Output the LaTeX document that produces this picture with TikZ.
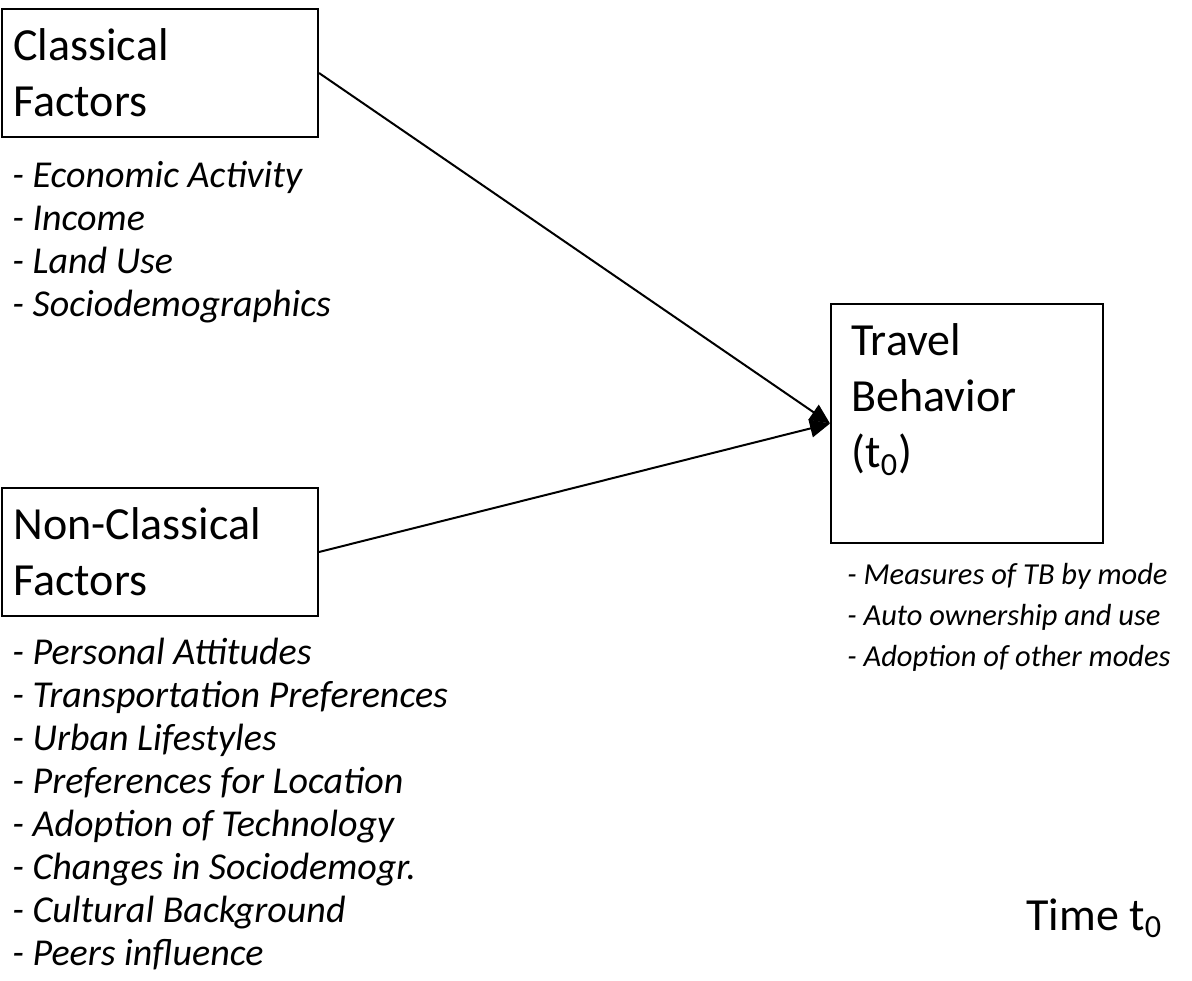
\documentclass[tikz,border=0pt]{standalone}
\usepackage{fontspec}
\setmainfont{Carlito}
\usetikzlibrary{arrows.meta}
\begin{document}
\begin{tikzpicture}[x=0.5pt,y=-0.5pt,
box/.style={draw,line width=1pt,anchor=north west,inner sep=0pt},
head/.style={anchor=north west,inner sep=0pt,align=left,font=\fontsize{23}{28}\selectfont},
items/.style={anchor=north west,inner sep=0pt,align=left,font=\fontsize{19}{21.5}\selectfont\itshape},
link/.style={line width=1pt,-{Triangle[length=10pt,width=9pt]}}
]
\useasboundingbox (0,0) rectangle (1192,980);
\def\bw{158pt}
\def\bh{64pt}
% factor boxes
\node[box,minimum width=\bw,minimum height=\bh] (cf) at (1,8) {};
\node[head] (cftext) at (13,21) {\strut Classical\\Factors};
\node[items] (cflist) at (12,157) {\strut - Economic Activity\\- Income\\- Land Use\\- Sociodemographics};
\node[box,minimum width=\bw,minimum height=\bh] (ncf) at (1,487) {};
\node[head] (ncftext) at (13,500) {\strut Non-Classical\\Factors};
\node[items] (ncflist) at (12,634) {\strut - Personal Attitudes\\- Transportation Preferences\\- Urban Lifestyles\\- Preferences for Location\\- Adoption of Technology\\- Changes in Sociodemogr.\\- Cultural Background\\- Peers influence};
% travel behavior
\node[box,minimum width=136pt,minimum height=119.5pt] (tb) at (830,303) {};
\node[head] (tbtext) at (851,316) {\strut Travel\\Behavior\\(t\textsubscript{0})};
\node[items,font=\fontsize{15.25}{20.5}\selectfont\itshape] (tblist) at (847,555) {\strut - Measures of TB by mode\\- Auto ownership and use\\- Adoption of other modes};
\node[anchor=base west,inner sep=0pt,font=\fontsize{23}{28}\selectfont] (time) at (1026,930) {Time t\textsubscript{0}};
\draw[link] (cf.east) -- (tb.west);
\draw[link] (ncf.east) -- (tb.west);
\end{tikzpicture}
\end{document}
